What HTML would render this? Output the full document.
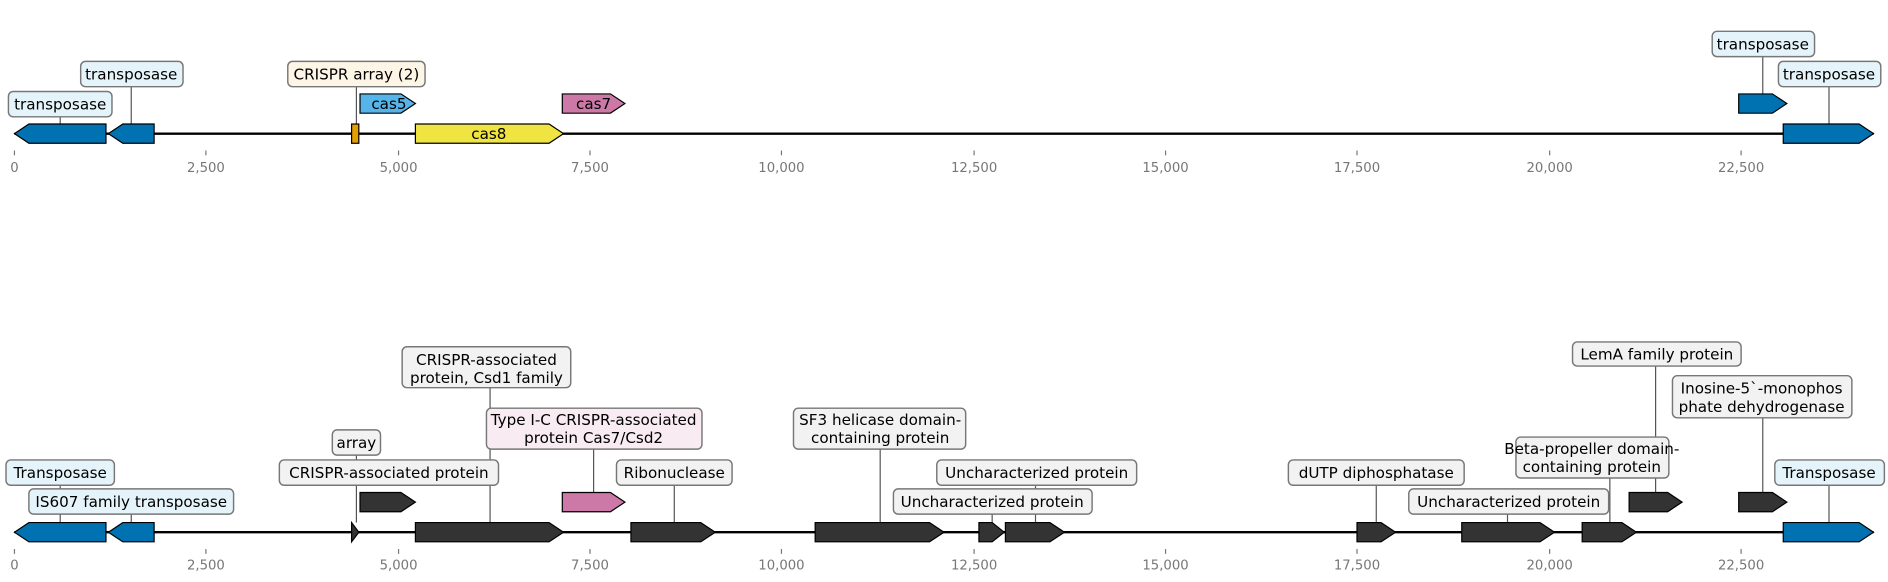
<!DOCTYPE html>
<html><head><meta charset="utf-8"><style>
html,body{margin:0;padding:0;background:#fff;}
svg{display:block;font-family:"DejaVu Sans","Liberation Sans",sans-serif;}
.lb{font-size:12.6px;fill:#000;text-anchor:middle;}
.tk{font-size:11px;fill:#777;text-anchor:middle;}
</style></head><body>
<svg width="1888" height="582" viewBox="0 0 1568 483.36" preserveAspectRatio="none" xmlns="http://www.w3.org/2000/svg">
<g stroke="#555" stroke-width="1">
<line x1="50" y1="96" x2="50" y2="103"/><line x1="109" y1="71" x2="109" y2="103"/>
<line x1="296" y1="71" x2="296" y2="103"/><line x1="1464" y1="46" x2="1464" y2="78"/>
<line x1="1519" y1="71" x2="1519" y2="103"/>
</g>
<line x1="12" y1="111" x2="1556" y2="111" stroke="#000" stroke-width="2"/>
<g stroke="#000" stroke-width="1">
<polygon fill="#0072b2" points="88,103 24,103 12,111 24,119 88,119"/>
<polygon fill="#0072b2" points="128,103 102,103 90,111 102,119 128,119"/>
<rect fill="#e69f00" x="292" y="103" width="6" height="16"/>
<polygon fill="#56b4e9" points="299,78 333,78 345,86 333,94 299,94"/>
<polygon fill="#f0e442" points="345,103 456,103 468,111 456,119 345,119"/>
<polygon fill="#cc79a7" points="467,78 507,78 519,86 507,94 467,94"/>
<polygon fill="#0072b2" points="1444,78 1472,78 1484,86 1472,94 1444,94"/>
<polygon fill="#0072b2" points="1481,103 1544,103 1556,111 1544,119 1481,119"/>
</g>
<text class="lb" x="323" y="90.5">cas5</text>
<text class="lb" x="406" y="115.5">cas8</text>
<text class="lb" x="493" y="90.5">cas7</text>
<g stroke="#777" stroke-width="1.2">
<rect fill="#e5f4fb" x="7" y="76" width="86" height="21" rx="4"/>
<rect fill="#e5f4fb" x="67" y="51" width="85" height="21" rx="4"/>
<rect fill="#fdf5e6" x="239" y="51" width="114" height="21" rx="4"/>
<rect fill="#e5f4fb" x="1422" y="26" width="85" height="21" rx="4"/>
<rect fill="#e5f4fb" x="1477" y="51" width="85" height="21" rx="4"/>
</g>
<text class="lb" x="50" y="91">transposase</text>
<text class="lb" x="109" y="66">transposase</text>
<text class="lb" x="296" y="66">CRISPR array (2)</text>
<text class="lb" x="1464" y="41">transposase</text>
<text class="lb" x="1519" y="66">transposase</text>
<g stroke="#777"><line x1="12" y1="125" x2="12" y2="129"/><line x1="171" y1="125" x2="171" y2="129"/><line x1="331" y1="125" x2="331" y2="129"/><line x1="490" y1="125" x2="490" y2="129"/><line x1="649" y1="125" x2="649" y2="129"/><line x1="809" y1="125" x2="809" y2="129"/><line x1="968" y1="125" x2="968" y2="129"/><line x1="1127" y1="125" x2="1127" y2="129"/><line x1="1287" y1="125" x2="1287" y2="129"/><line x1="1446" y1="125" x2="1446" y2="129"/></g>
<g class="tk"><text x="12" y="143">0</text><text x="171" y="143">2,500</text><text x="331" y="143">5,000</text><text x="490" y="143">7,500</text><text x="649" y="143">10,000</text><text x="809" y="143">12,500</text><text x="968" y="143">15,000</text><text x="1127" y="143">17,500</text><text x="1287" y="143">20,000</text><text x="1446" y="143">22,500</text></g>

<g stroke="#555" stroke-width="1">
<line x1="50" y1="403" x2="50" y2="434"/><line x1="109" y1="427" x2="109" y2="434"/>
<line x1="296" y1="378" x2="296" y2="434"/><line x1="407" y1="322" x2="407" y2="434"/>
<line x1="493" y1="373" x2="493" y2="409"/><line x1="560" y1="403" x2="560" y2="434"/>
<line x1="731" y1="373" x2="731" y2="434"/><line x1="860" y1="403" x2="860" y2="434"/>
<line x1="824" y1="427" x2="824" y2="434"/><line x1="1143" y1="403" x2="1143" y2="434"/>
<line x1="1252" y1="427" x2="1252" y2="434"/><line x1="1337" y1="397" x2="1337" y2="434"/>
<line x1="1375" y1="304" x2="1375" y2="409"/><line x1="1464" y1="347" x2="1464" y2="409"/>
<line x1="1519" y1="403" x2="1519" y2="434"/>
</g>
<line x1="12" y1="442" x2="1556" y2="442" stroke="#000" stroke-width="2"/>
<g stroke="#000" stroke-width="1">
<polygon fill="#0072b2" points="88,434 24,434 12,442 24,450 88,450"/>
<polygon fill="#0072b2" points="128,434 102,434 90,442 102,450 128,450"/>
<polygon fill="#333" points="292,434 298,442 292,450"/>
<polygon fill="#333" points="299,409 333,409 345,417 333,425 299,425"/>
<polygon fill="#333" points="345,434 456,434 468,442 456,450 345,450"/>
<polygon fill="#cc79a7" points="467,409 507,409 519,417 507,425 467,425"/>
<polygon fill="#333" points="524,434 582,434 594,442 582,450 524,450"/>
<polygon fill="#333" points="677,434 772,434 784,442 772,450 677,450"/>
<polygon fill="#333" points="813,434 824,434 834,442 824,450 813,450"/>
<polygon fill="#333" points="835,434 872,434 884,442 872,450 835,450"/>
<polygon fill="#333" points="1127,434 1147,434 1159,442 1147,450 1127,450"/>
<polygon fill="#333" points="1214,434 1279,434 1291,442 1279,450 1214,450"/>
<polygon fill="#333" points="1314,434 1347,434 1359,442 1347,450 1314,450"/>
<polygon fill="#333" points="1353,409 1385,409 1397,417 1385,425 1353,425"/>
<polygon fill="#333" points="1444,409 1472,409 1484,417 1472,425 1444,425"/>
<polygon fill="#0072b2" points="1481,434 1544,434 1556,442 1544,450 1481,450"/>
</g>
<g stroke="#777" stroke-width="1.2">
<rect fill="#e5f4fb" x="5" y="382" width="90" height="21" rx="4"/>
<rect fill="#e5f4fb" x="24" y="406" width="170" height="21" rx="4"/>
<rect fill="#f2f2f2" x="276" y="357" width="40" height="21" rx="4"/>
<rect fill="#f2f2f2" x="232" y="382" width="182" height="21" rx="4"/>
<rect fill="#f2f2f2" x="334" y="288" width="140" height="34" rx="4"/>
<rect fill="#f8ebf1" x="404" y="339" width="179" height="34" rx="4"/>
<rect fill="#f2f2f2" x="512" y="382" width="96" height="21" rx="4"/>
<rect fill="#f2f2f2" x="659" y="339" width="143" height="34" rx="4"/>
<rect fill="#f2f2f2" x="778" y="382" width="166" height="21" rx="4"/>
<rect fill="#f2f2f2" x="742" y="406" width="165" height="21" rx="4"/>
<rect fill="#f2f2f2" x="1070" y="382" width="146" height="21" rx="4"/>
<rect fill="#f2f2f2" x="1170" y="406" width="166" height="21" rx="4"/>
<rect fill="#f2f2f2" x="1259" y="363" width="127" height="34" rx="4"/>
<rect fill="#f2f2f2" x="1306" y="284" width="140" height="20" rx="4"/>
<rect fill="#f2f2f2" x="1389" y="312" width="149" height="35" rx="4"/>
<rect fill="#e5f4fb" x="1474" y="382" width="91" height="21" rx="4"/>
</g>
<text class="lb" x="50" y="397">Transposase</text>
<text class="lb" x="109" y="421">IS607 family transposase</text>
<text class="lb" x="296" y="372">array</text>
<text class="lb" x="323" y="397">CRISPR-associated protein</text>
<text class="lb" x="404" y="303">CRISPR-associated</text>
<text class="lb" x="404" y="318">protein, Csd1 family</text>
<text class="lb" x="493" y="353">Type I-C CRISPR-associated</text>
<text class="lb" x="493" y="368">protein Cas7/Csd2</text>
<text class="lb" x="560" y="397">Ribonuclease</text>
<text class="lb" x="731" y="353">SF3 helicase domain-</text>
<text class="lb" x="731" y="368">containing protein</text>
<text class="lb" x="861" y="397">Uncharacterized protein</text>
<text class="lb" x="824" y="421">Uncharacterized protein</text>
<text class="lb" x="1143" y="397">dUTP diphosphatase</text>
<text class="lb" x="1253" y="421">Uncharacterized protein</text>
<text class="lb" x="1322" y="377">Beta-propeller domain-</text>
<text class="lb" x="1322" y="392">containing protein</text>
<text class="lb" x="1376" y="298.5">LemA family protein</text>
<text class="lb" x="1463" y="327">Inosine-5`-monophos</text>
<text class="lb" x="1463" y="342">phate dehydrogenase</text>
<text class="lb" x="1519" y="397">Transposase</text>
<g stroke="#777"><line x1="12" y1="456" x2="12" y2="460"/><line x1="171" y1="456" x2="171" y2="460"/><line x1="331" y1="456" x2="331" y2="460"/><line x1="490" y1="456" x2="490" y2="460"/><line x1="649" y1="456" x2="649" y2="460"/><line x1="809" y1="456" x2="809" y2="460"/><line x1="968" y1="456" x2="968" y2="460"/><line x1="1127" y1="456" x2="1127" y2="460"/><line x1="1287" y1="456" x2="1287" y2="460"/><line x1="1446" y1="456" x2="1446" y2="460"/></g>
<g class="tk"><text x="12" y="473">0</text><text x="171" y="473">2,500</text><text x="331" y="473">5,000</text><text x="490" y="473">7,500</text><text x="649" y="473">10,000</text><text x="809" y="473">12,500</text><text x="968" y="473">15,000</text><text x="1127" y="473">17,500</text><text x="1287" y="473">20,000</text><text x="1446" y="473">22,500</text></g>
</svg>
</body></html>
